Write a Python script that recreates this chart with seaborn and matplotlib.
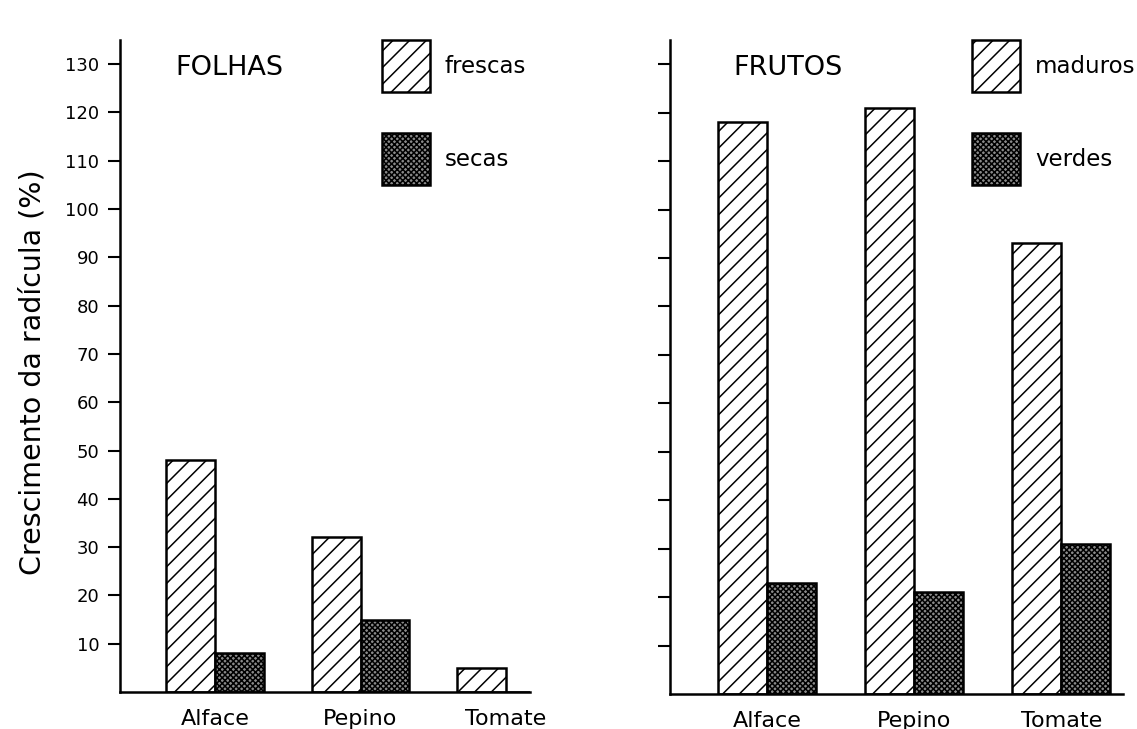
import matplotlib
matplotlib.use("Agg")
import matplotlib.pyplot as plt
from matplotlib.patches import Patch
import seaborn as sns
import pandas as pd

# ---- data ----
categorias = ["Alface", "Pepino", "Tomate"]
folhas_frescas = [48, 32, 5]
folhas_secas = [8, 15, 0]
frutos_maduros = [118, 121, 93]
frutos_verdes = [23, 21, 31]
yticks = [10, 20, 30, 40, 50, 60, 70, 80, 90, 100, 110, 120, 130]
ylabel = "Crescimento da radícula (%)"

sns.set_theme(style="white")
plt.rcParams["font.family"] = ["DejaVu Sans"]
plt.rcParams["hatch.linewidth"] = 1.1
plt.rcParams["hatch.color"] = "black"
plt.rcParams["text.color"] = "black"

fig = plt.figure(figsize=(11.37, 7.29), dpi=100)
axL = fig.add_axes([120 / 1137, 37 / 729, 410 / 1137, 652 / 729])
axR = fig.add_axes([670 / 1137, 35 / 729, 453 / 1137, 654 / 729])

HATCH_A = "//"
HATCH_B = "xxxxxx"
FACE_A = "white"
FACE_B = "#8a8a8a"


def panel(ax, vals_a, vals_b, name_a, name_b, title, xlim, show_labels,
          leg_x, title_x):
    df = pd.DataFrame({
        "cat": categorias * 2,
        "tipo": [name_a] * 3 + [name_b] * 3,
        "val": list(vals_a) + list(vals_b),
    })
    sns.barplot(data=df, x="cat", y="val", hue="tipo", ax=ax, width=0.667,
                palette=[FACE_A, FACE_B], edgecolor="black", linewidth=1.8,
                legend=False, saturation=1)
    for i, cont in enumerate(ax.containers):
        for bar in cont:
            bar.set_hatch(HATCH_A if i == 0 else HATCH_B)
            bar.set_edgecolor("black")
            bar.set_facecolor(FACE_A if i == 0 else FACE_B)
    ax.set_xlim(*xlim)
    ax.set_ylim(0, 135)
    ax.set_yticks(yticks)
    for s in ["top", "right"]:
        ax.spines[s].set_visible(False)
    for s in ["left", "bottom"]:
        ax.spines[s].set_linewidth(1.8)
        ax.spines[s].set_color("black")
    ax.tick_params(axis="y", direction="out", length=9, width=1.5, pad=6,
                   labelsize=13, colors="black", left=True)
    ax.tick_params(axis="x", length=0, pad=12, labelsize=16, colors="black")
    if not show_labels:
        ax.set_yticklabels([])
        ax.set_ylabel("")
    else:
        ax.set_ylabel(ylabel, fontsize=20.5, color="black")
        ax.yaxis.set_label_coords(-0.18, 0.49)
    ax.set_xlabel("")
    ax.text(title_x, 0.957, title, transform=ax.transAxes,
            fontsize=19.5, va="center", ha="left", color="black")
    handles = [
        Patch(facecolor=FACE_A, edgecolor="black", hatch=HATCH_A, linewidth=1.8),
        Patch(facecolor=FACE_B, edgecolor="black", hatch=HATCH_B, linewidth=1.8),
    ]
    ax.legend(handles, [name_a, name_b], loc="upper left",
              bbox_to_anchor=(leg_x, 1.0), frameon=False, fontsize=16.5,
              borderpad=0, handlelength=2.09, handleheight=3.1,
              labelspacing=1.8, handletextpad=0.65, borderaxespad=0,
              labelcolor="black")


panel(axL, folhas_frescas, folhas_secas, "frescas", "secas", "FOLHAS",
      (-0.653, 2.165), True, 0.639, 0.134)
panel(axR, frutos_maduros, frutos_verdes, "maduros", "verdes", "FRUTOS",
      (-0.66, 2.42), False, 0.667, 0.139)

fig.savefig("out.png", dpi=100)
